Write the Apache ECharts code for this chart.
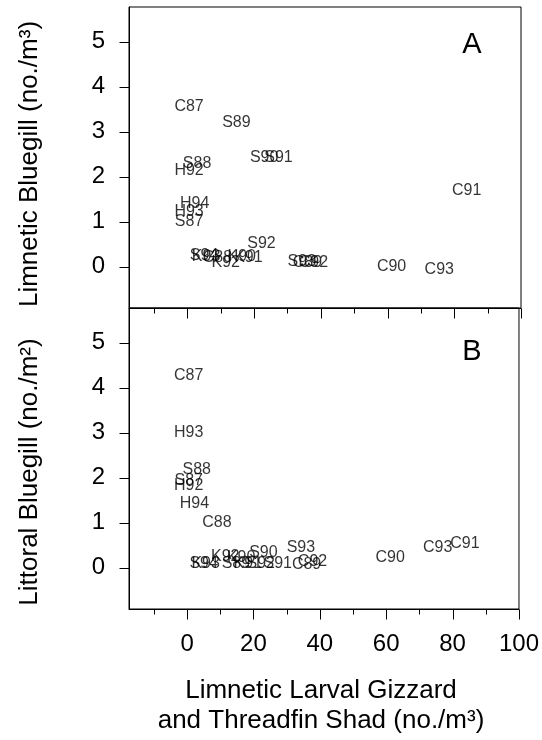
<!DOCTYPE html>
<html>
<head>
<meta charset="utf-8">
<script src="https://cdn.jsdelivr.net/npm/echarts@6/dist/echarts.min.js"></script>
<style>html,body{margin:0;padding:0;background:#fff}#c{width:542px;height:740px}</style>
</head>
<body>
<div id="c"></div>
<script>
// Site-year labels and the shared x value (limnetic larval shad, no./m3)
const siteLabels = ['C87','H92','H93','S87','H94','S88','S94','K93','C88','K92','S89','K90','K91','S92','S90','S91','S93','C89','C92','C90','C93','C91'];
const shadX      = [0.5, 0.5, 0.5, 0.5, 2.2, 2.9, 5.0, 5.6, 9.0, 11.5, 14.7, 16.3, 18.3, 22.2, 23.0, 27.3, 34.3, 36.0, 37.8, 61.2, 75.5, 83.7];
// Panel A: limnetic bluegill (no./m3)
const limneticY  = [3.56, 2.13, 1.22, 1.00, 1.40, 2.28, 0.24, 0.22, 0.20, 0.10, 3.20, 0.22, 0.20, 0.51, 2.43, 2.43, 0.12, 0.10, 0.08, 0.00, -0.07, 1.68];
// Panel B: littoral bluegill (no./m2)
const littoralY  = [4.27, 1.82, 3.01, 1.93, 1.43, 2.18, 0.08, 0.08, 1.00, 0.24, 0.08, 0.22, 0.08, 0.08, 0.34, 0.10, 0.44, 0.06, 0.14, 0.23, 0.44, 0.54];
const xTicks      = [0, 20, 40, 60, 80, 100];
const xMinorTicks = [-10, 10, 30, 50, 70, 90];
const yTicks      = [0, 1, 2, 3, 4, 5];

const FONT = '"Liberation Sans", Arial, Helvetica, sans-serif';
const chart = echarts.init(document.getElementById('c'), null, {renderer: 'canvas'});

// plot ranges
const X_MIN = -17.5, X_MAX = 100, Y_MIN = -0.92, Y_MAX = 5.77;
// panel boxes (pixels)
const LEFT = 129, RIGHT = 21, H = 301;
const TOPS = [7, 308];

const grids = [], xAxis = [], yAxis = [], series = [];
const ls = () => ({color: '#000', width: 1});

// outward tick marks drawn through the axes' own scales
function tickSeries(g, data, dir) {
  return {
    type: 'custom', xAxisIndex: g, yAxisIndex: g, clip: false, silent: true, z: 5,
    data: data,
    renderItem: (params, api) => {
      const pt = api.coord([api.value(0), api.value(1)]);
      const len = api.value(2);
      const px = Math.round(pt[0]) + 0.5, py = Math.round(pt[1]) + 0.5;
      const shape = dir === 'down'
        ? {x1: px, y1: py, x2: px, y2: py + len}
        : {x1: px, y1: py, x2: px - len, y2: py};
      return {type: 'line', shape: shape, style: {stroke: '#000', lineWidth: 1}};
    }
  };
}

TOPS.forEach((top, p) => {
  const g = p;
  grids.push({left: LEFT, right: RIGHT, top: top, height: H, show: true, borderColor: '#000', borderWidth: 1, backgroundColor: 'transparent'});
  xAxis.push({gridIndex: g, type: 'value', min: X_MIN, max: X_MAX, position: 'bottom',
    splitLine: {show: false}, axisTick: {show: false},
    axisLine: {show: true, onZero: false, lineStyle: ls()},
    axisLabel: {show: p === 1, customValues: xTicks, fontSize: 24, color: '#000', fontFamily: FONT, margin: 23}});
  yAxis.push({gridIndex: g, type: 'value', min: Y_MIN, max: Y_MAX, position: 'left',
    splitLine: {show: false}, axisTick: {show: false},
    axisLine: {show: true, onZero: false, lineStyle: ls()},
    axisLabel: {show: true, customValues: yTicks, fontSize: 24, color: '#000', fontFamily: FONT, margin: 24}});
  const ys = p === 0 ? limneticY : littoralY;
  series.push({
    type: 'scatter', xAxisIndex: g, yAxisIndex: g,
    symbol: 'circle', symbolSize: 1, itemStyle: {color: 'rgba(0,0,0,0)'}, silent: true,
    data: siteLabels.map((n, i) => ({name: n, value: [shadX[i], ys[i]]})),
    label: {show: true, position: 'inside', formatter: q => q.name, fontSize: 16, color: '#000', fontFamily: FONT},
    labelLayout: {hideOverlap: false}
  });
  const xTickData = xTicks.map(v => [v, Y_MIN, 10]).concat(xMinorTicks.map(v => [v, Y_MIN, 5]));
  series.push(tickSeries(g, xTickData, 'down'));
  series.push(tickSeries(g, yTicks.map(v => [X_MIN, v, 10]), 'left'));
});

chart.setOption({
  animation: false,
  backgroundColor: '#fff',
  grid: grids,
  xAxis: xAxis,
  yAxis: yAxis,
  series: series,
  graphic: [
    {type: 'text', x: 30, y: 164, rotation: Math.PI / 2,
     style: {text: 'Limnetic Bluegill (no./m³)', font: '26px ' + FONT, fill: '#000', textAlign: 'center', textVerticalAlign: 'middle'}},
    {type: 'text', x: 30, y: 472, rotation: Math.PI / 2,
     style: {text: 'Littoral Bluegill (no./m²)', font: '26px ' + FONT, fill: '#000', textAlign: 'center', textVerticalAlign: 'middle'}},
    {type: 'text', x: 321, y: 691,
     style: {text: 'Limnetic Larval Gizzard', font: '26px ' + FONT, fill: '#000', textAlign: 'center', textVerticalAlign: 'middle'}},
    {type: 'text', x: 321, y: 721,
     style: {text: 'and Threadfin Shad (no./m³)', font: '26px ' + FONT, fill: '#000', textAlign: 'center', textVerticalAlign: 'middle'}},
    {type: 'text', x: 472, y: 45,
     style: {text: 'A', font: '29px ' + FONT, fill: '#000', textAlign: 'center', textVerticalAlign: 'middle'}},
    {type: 'text', x: 472, y: 352,
     style: {text: 'B', font: '29px ' + FONT, fill: '#000', textAlign: 'center', textVerticalAlign: 'middle'}}
  ]
});
</script>
</body>
</html>
